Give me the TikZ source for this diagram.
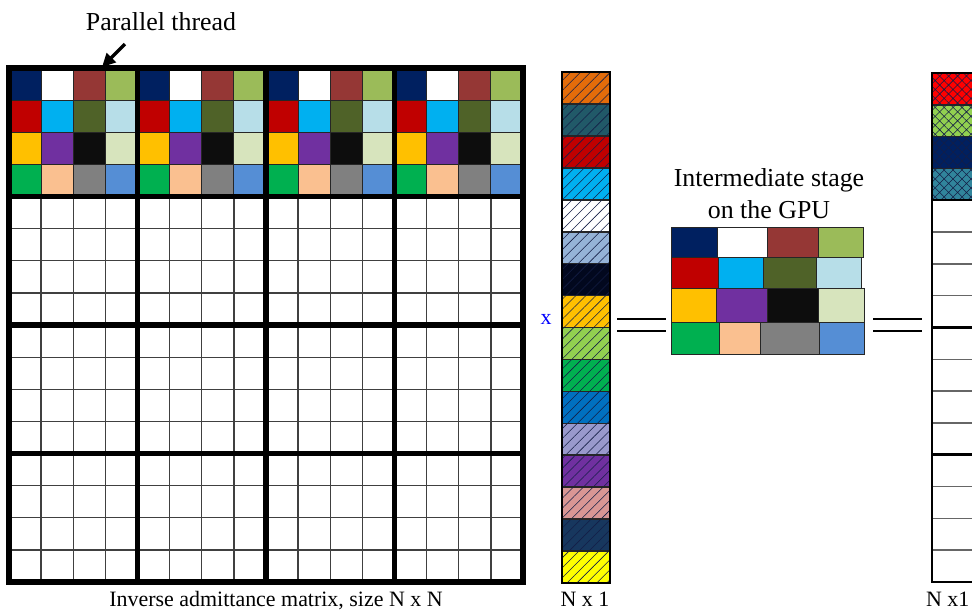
\documentclass[tikz,border=0pt]{standalone}
\usepackage{fontspec}
\setmainfont{Liberation Serif}
\usetikzlibrary{arrows.meta,patterns.meta}
% block colours (row, column)
\definecolor{m11}{RGB}{0,32,96}
\definecolor{m12}{RGB}{255,255,255}
\definecolor{m13}{RGB}{149,55,53}
\definecolor{m14}{RGB}{155,187,89}
\definecolor{m21}{RGB}{192,0,0}
\definecolor{m22}{RGB}{0,176,240}
\definecolor{m23}{RGB}{79,98,40}
\definecolor{m24}{RGB}{183,222,232}
\definecolor{m31}{RGB}{255,192,0}
\definecolor{m32}{RGB}{112,48,160}
\definecolor{m33}{RGB}{13,13,13}
\definecolor{m34}{RGB}{215,228,189}
\definecolor{m41}{RGB}{0,176,80}
\definecolor{m42}{RGB}{250,192,144}
\definecolor{m43}{RGB}{128,128,128}
\definecolor{m44}{RGB}{85,142,213}
% vector colours
\definecolor{v1}{RGB}{228,108,10}
\definecolor{v2}{RGB}{33,89,104}
\definecolor{v3}{RGB}{192,0,0}
\definecolor{v4}{RGB}{0,176,240}
\definecolor{v5}{RGB}{255,255,255}
\definecolor{v6}{RGB}{149,179,215}
\definecolor{v7}{RGB}{2,8,30}
\definecolor{v8}{RGB}{255,192,0}
\definecolor{v9}{RGB}{146,208,80}
\definecolor{v10}{RGB}{0,176,80}
\definecolor{v11}{RGB}{0,112,192}
\definecolor{v12}{RGB}{153,153,204}
\definecolor{v13}{RGB}{112,48,160}
\definecolor{v14}{RGB}{217,150,148}
\definecolor{v15}{RGB}{23,55,94}
\definecolor{v16}{RGB}{255,255,0}
% result colours
\definecolor{r1}{RGB}{255,0,0}
\definecolor{r2}{RGB}{146,208,80}
\definecolor{r3}{RGB}{0,32,96}
\definecolor{r4}{RGB}{49,133,156}
\definecolor{hatch}{RGB}{20,30,70}
\tikzset{
  cellline/.style={draw=black!85,line width=0.6pt},
  gridline/.style={draw=black!75,line width=0.9pt},
  blockline/.style={draw=black,line width=3.6pt,line cap=rect},
  eqline/.style={draw=black,line width=1.8pt},
  vcell/.style={fill=#1,draw=black!85,line width=1.2pt,
    postaction={pattern={Lines[angle=45,distance=5pt,line width=0.4pt]},pattern color=hatch}},
  rcell/.style={fill=#1,draw=black!85,line width=1pt,
    postaction={pattern={Hatch[angle=45,distance=4.5pt,line width=0.4pt]},pattern color=hatch}},
  lbl/.style={font=\fontsize{15.6}{18}\selectfont},
  biglbl/.style={font=\fontsize{18.4}{22.7}\selectfont,align=center}
}
\begin{document}
\begin{tikzpicture}[x=0.025cm,y=-0.025cm]
  \useasboundingbox (0,0) rectangle (972,613);
  \def\mx{9}\def\my{68}\def\cs{32.125}
  % coloured first block row
  \foreach \i in {0,...,15}
    \foreach \j in {1,...,4} {
      \pgfmathtruncatemacro\k{mod(\i,4)+1}
      \filldraw[cellline,fill=m\j\k] ({\mx+\i*\cs},{\my+(\j-1)*\cs}) rectangle ++(\cs,\cs);
    }
  % thin grid
  \foreach \i in {1,...,15}
    \draw[gridline] ({\mx+\i*\cs},{\my+4*\cs}) -- ++(0,12*\cs);
  \foreach \j in {5,...,15}
    \draw[gridline] (\mx,{\my+\j*\cs}) -- ++(16*\cs,0);
  % block borders
  \foreach \i in {0,4,8,12,16} {
    \draw[blockline] ({\mx+\i*\cs},\my) -- ++(0,16*\cs);
    \draw[blockline] (\mx,{\my+\i*\cs}) -- ++(16*\cs,0);
  }
  \node[biglbl] (pthread) at (161,22) {Parallel thread};
  \coordinate (arrtail) at (125,44);
  \coordinate (arrtip) at (102,67);
  \draw[-{Triangle[length=9.5pt,width=9pt]},line width=2.4pt] (arrtail) -- (arrtip);
  \node[lbl] (matlbl) at (276,601) {Inverse admittance matrix, size N x N};

  % vector
  \foreach \c [count=\n from 0] in {v1,v2,v3,v4,v5,v6,v7,v8,v9,v10,v11,v12,v13,v14,v15,v16}
    \path[vcell=\c] (562,{72+\n*31.94}) rectangle ++(48,31.94);
  \draw[line width=2pt] (562,72) rectangle (610,583);
  \node[lbl,text=blue] (times) at (546,319) {x};
  \node[lbl] (veclbl) at (585,599) {N x 1};

  % intermediate stage
  \draw[eqline] (617,319) -- (666,319) (617,331) -- (666,331);
  \node[biglbl] (gpulbl) at (769,194) {Intermediate stage\\on the GPU};
  \foreach \ya/\yb/\xa/\xb/\xc/\xd/\xe [count=\r] in
      {227/257/671/717/767/818/863, 257/288/671/718/763/816/861,
       288/322/671/716/767/818/864, 322/354/671/719/760/819/864} {
    \filldraw[cellline,fill=m\r1] (\xa,\ya) rectangle (\xb,\yb);
    \filldraw[cellline,fill=m\r2] (\xb,\ya) rectangle (\xc,\yb);
    \filldraw[cellline,fill=m\r3] (\xc,\ya) rectangle (\xd,\yb);
    \filldraw[cellline,fill=m\r4] (\xd,\ya) rectangle (\xe,\yb);
  }
  \draw[eqline] (873,319) -- (922,319) (873,331) -- (922,331);

  % result vector
  \foreach \c [count=\n from 0] in {r1,r2,r3,r4}
    \path[rcell=\c] (932,{73+\n*31.8}) rectangle ++(60,31.8);
  \foreach \n in {5,...,15}
    \draw[draw=black!60,line width=1pt] (932,{73+\n*31.8}) -- ++(60,0);
  \foreach \n in {4,8,12}
    \draw[line width=1.6pt] (932,{73+\n*31.8}) -- ++(60,0);
  \draw[line width=1.6pt] (992,73) -- (932,73) -- (932,582) -- (992,582);
  \node[lbl,anchor=east,inner sep=1pt] (reslbl) at (971,599) {N x1};
\end{tikzpicture}
\end{document}
